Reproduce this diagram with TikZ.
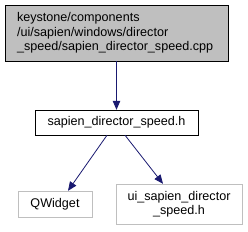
\documentclass[tikz,border=0pt]{standalone}
\usepackage{fontspec}
\setmainfont{Liberation Sans}
\usetikzlibrary{positioning, arrows.meta}
\definecolor{edgeblue}{HTML}{191970}
\definecolor{boxgray}{HTML}{BFBFBF}

\begin{document}
\begin{tikzpicture}[
    x=1pt, y=1pt,
    font=\fontsize{12.6}{14.5}\selectfont,
    filebox/.style={draw=black, rectangle, inner sep=0pt, align=center},
    extbox/.style={draw=boxgray, rectangle, inner sep=0pt, align=center},
    incl/.style={draw=edgeblue, -{Triangle[length=9pt, width=7.5pt]}, thick}
]
    \useasboundingbox (0,0) rectangle (248,231);
    \node[
        filebox,
        fill=boxgray,
        minimum width=223pt,
        minimum height=56pt,
        text width=199pt,
        align=left   % left-aligned path
    ] (cpp) at (116.5,198) {keystone/components\\/ui/sapien/windows/director\\\_speed/sapien\_director\_speed.cpp};
    \node[filebox, minimum width=163pt, minimum height=25pt] (hdr) at (116.5,108.5) {sapien\_director\_speed.h};
    \node[extbox, minimum width=74pt, minimum height=26pt] (qw) at (55,27) {QWidget};
    \node[extbox, minimum width=126pt, minimum height=40pt] (ui) at (179,27) {ui\_sapien\_director\\\_speed.h};

    \draw[incl] (cpp) -- (hdr);
    \draw[incl] ([xshift=-9.5pt]hdr.south) -- ([xshift=13pt]qw.north);
    \draw[incl] ([xshift=8.5pt]hdr.south) -- ([xshift=-16pt]ui.north);
\end{tikzpicture}
\end{document}
